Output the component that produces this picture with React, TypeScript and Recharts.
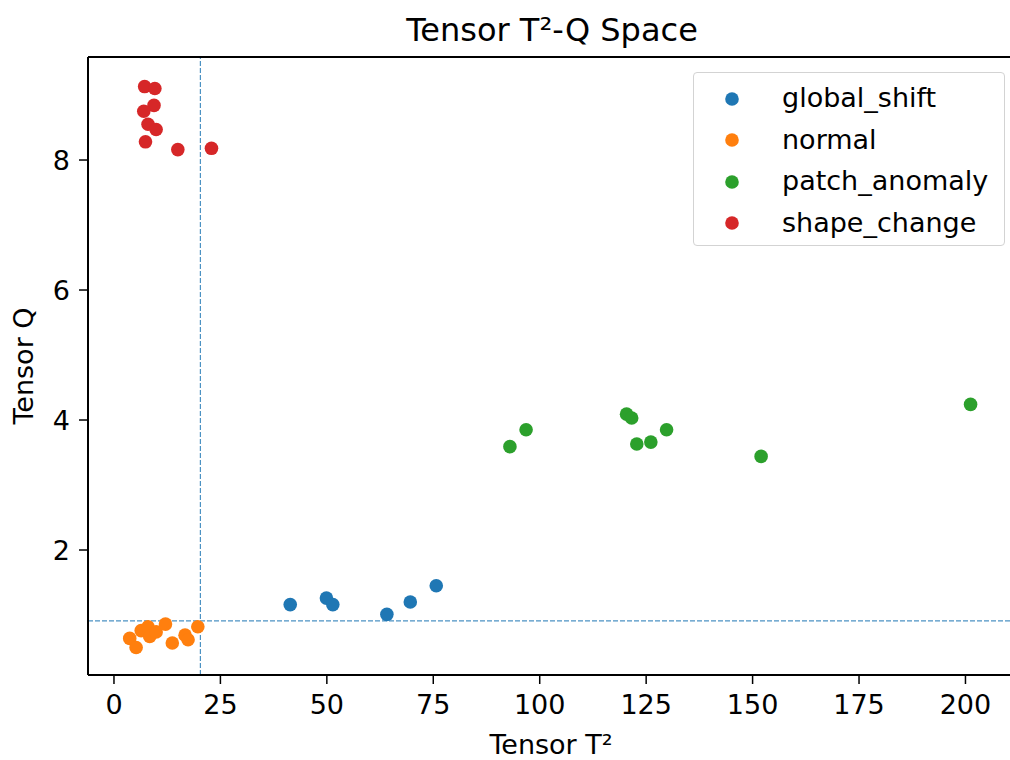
import { Legend, ReferenceLine, Scatter, ScatterChart, XAxis, YAxis } from "recharts";

// values
const categories = ["global_shift", "normal", "patch_anomaly", "shape_change"];

const globalShiftT2 = [41.4, 49.9, 51.4, 64.1, 69.6, 75.7];
const globalShiftQ = [1.16, 1.26, 1.16, 1.01, 1.2, 1.45];

const normalT2 = [3.7, 5.2, 6.4, 8.0, 8.4, 9.9, 12.1, 13.7, 16.7, 17.4, 19.7];
const normalQ = [0.64, 0.5, 0.76, 0.82, 0.67, 0.74, 0.86, 0.57, 0.69, 0.62, 0.82];

const patchT2 = [93.0, 96.8, 120.4, 121.6, 122.8, 126.1, 129.8, 152.0, 201.2];
const patchQ = [3.59, 3.85, 4.09, 4.03, 3.63, 3.66, 3.85, 3.44, 4.24];

const shapeT2 = [7.2, 9.6, 9.4, 7.0, 8.0, 9.9, 7.4, 15.0, 22.9];
const shapeQ = [9.13, 9.1, 8.84, 8.75, 8.55, 8.47, 8.28, 8.16, 8.18];

const xTicks = [0, 25, 50, 75, 100, 125, 150, 175, 200];
const yTicks = [2, 4, 6, 8];

const t2Limit = 20.3;
const qLimit = 0.91;

const xDomain = [-6.1, 211.4];
const yDomain = [0.077, 9.585];

const colors = ["#1f77b4", "#ff7f0e", "#2ca02c", "#d62728"];

const toPoints = (xs: number[], ys: number[]) => xs.map((x, i) => ({ t2: x, q: ys[i] }));

const series = [
  toPoints(globalShiftT2, globalShiftQ),
  toPoints(normalT2, normalQ),
  toPoints(patchT2, patchQ),
  toPoints(shapeT2, shapeQ),
];

const font = "'DejaVu Sans', sans-serif";

function renderLegend(props: any) {
  const items = props.payload || [];
  return (
    <div
      style={{
        boxSizing: "border-box",
        width: 312,
        height: 174,
        border: "1px solid #d3d3d3",
        borderRadius: 4,
        background: "rgba(255,255,255,0.8)",
        paddingTop: 5,
        fontFamily: font,
        fontSize: 27,
        color: "#000",
      }}
    >
      {items.map((entry: any) => (
        <div key={entry.value} style={{ height: 41.5, display: "flex", alignItems: "center", position: "relative" }}>
          <svg width={16} height={16} style={{ position: "absolute", left: 30 }}>
            <circle cx={8} cy={8} r={6.8} fill={entry.color} />
          </svg>
          <span style={{ position: "absolute", left: 88, lineHeight: "41.5px", top: -1 }}>{entry.value}</span>
        </div>
      ))}
    </div>
  );
}

export default function App() {
  return (
    <div
      style={{
        position: "absolute",
        left: 0,
        top: 0,
        width: 1010,
        height: 760,
        overflow: "hidden",
        background: "#fff",
        fontFamily: font,
      }}
    >
      <div
        style={{
          position: "absolute",
          left: 0,
          width: 1104,
          top: 14,
          textAlign: "center",
          fontSize: 32,
          lineHeight: "32px",
          color: "#000",
        }}
      >
        Tensor T²-Q Space
      </div>
      <ScatterChart width={1016} height={760} margin={{ top: 57, right: 2, bottom: 0, left: 0 }}>
        <XAxis
          type="number"
          dataKey="t2"
          domain={xDomain}
          allowDataOverflow
          ticks={xTicks}
          height={85}
          tickSize={9}
          tickMargin={11}
          axisLine={{ stroke: "#000", strokeWidth: 2 }}
          tickLine={{ stroke: "#000", strokeWidth: 1.5 }}
          tick={{ fontSize: 27, fill: "#000", fontFamily: font }}
          label={(p: any) => {
            const vb = p.viewBox;
            return (
              <text x={vb.x + vb.width / 2} y={vb.y + 79} textAnchor="middle" fontSize={27} fill="#000" fontFamily={font}>
                Tensor T²
              </text>
            );
          }}
        />
        <YAxis
          type="number"
          dataKey="q"
          domain={yDomain}
          allowDataOverflow
          ticks={yTicks}
          width={88}
          tickSize={9}
          tickMargin={9}
          axisLine={{ stroke: "#000", strokeWidth: 2 }}
          tickLine={{ stroke: "#000", strokeWidth: 1.5 }}
          tick={{ fontSize: 27, fill: "#000", fontFamily: font }}
          label={(p: any) => {
            const vb = p.viewBox;
            const cy = vb.y + vb.height / 2;
            return (
              <text
                x={33}
                y={cy}
                transform={`rotate(-90, 33, ${cy})`}
                textAnchor="middle"
                fontSize={27}
                fill="#000"
                fontFamily={font}
              >
                Tensor Q
              </text>
            );
          }}
        />
        {series.map((pts, i) => (
          <Scatter
            key={categories[i]}
            name={categories[i]}
            data={pts}
            fill={colors[i]}
            isAnimationActive={false}
            shape={(p: any) => <circle cx={p.cx} cy={p.cy} r={6.8} fill={colors[i]} />}
          />
        ))}
        <ReferenceLine x={t2Limit} stroke="#1f77b4" strokeOpacity={0.8} strokeWidth={1.2} strokeDasharray="5 2" />
        <ReferenceLine y={qLimit} stroke="#1f77b4" strokeOpacity={0.8} strokeWidth={1.2} strokeDasharray="5 2" />
        {/* top spine of the frame */}
        <ReferenceLine y={yDomain[1]} stroke="#000" strokeWidth={2} />
        <Legend
          layout="vertical"
          align="center"
          verticalAlign="middle"
          content={renderLegend}
          wrapperStyle={{ position: "absolute", left: 693, top: 72, width: 312, height: 174 }}
        />
      </ScatterChart>
    </div>
  );
}
